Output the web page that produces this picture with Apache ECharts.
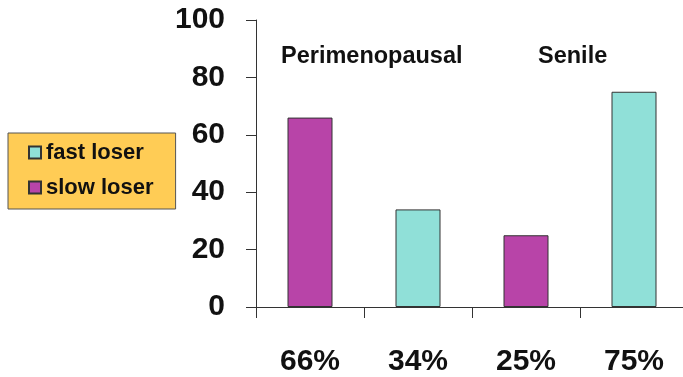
<!DOCTYPE html>
<html><head><meta charset="utf-8">
<script src="https://cdn.jsdelivr.net/npm/echarts@6/dist/echarts.min.js"></script>
<style>html,body{margin:0;padding:0;background:#fff}#c{width:683px;height:377px}</style>
</head><body><div id="c"></div>
<script>
var categories = ['66%', '34%', '25%', '75%'];
var slowLoser = [66, '-', 25, '-'];
var fastLoser = ['-', 34, '-', 75];
var yTicks = [0, 20, 40, 60, 80, 100];
var groupLabels = ['Perimenopausal', 'Senile'];

var chart = echarts.init(document.getElementById('c'));
var font = 'Liberation Sans, Arial, sans-serif';
chart.setOption({
  animation: false,
  grid: {left: 256, top: 20, width: 432, height: 287, outerBoundsMode: 'none'},
  legend: {
    orient: 'vertical', left: 8, top: 133,
    data: ['fast loser', 'slow loser'],
    backgroundColor: '#FFCC55', borderColor: '#555', borderWidth: 1,
    padding: [8, 22, 10, 20], itemGap: 12,
    itemWidth: 12, itemHeight: 12, icon: 'rect',
    textStyle: {fontFamily: font, fontWeight: 'bold', fontSize: 22, color: '#111', lineHeight: 23}
  },
  xAxis: {
    type: 'category', data: categories,
    axisLine: {lineStyle: {color: '#333', width: 1}},
    axisTick: {show: true, length: 11, lineStyle: {color: '#333'}},
    axisLabel: {margin: 40, fontFamily: font, fontWeight: 'bold', fontSize: 30, color: '#111'}
  },
  yAxis: {
    type: 'value', min: yTicks[0], max: yTicks[yTicks.length - 1], interval: 20,
    axisLine: {show: true, lineStyle: {color: '#333', width: 1}},
    axisTick: {show: true, length: 10, lineStyle: {color: '#333'}},
    splitLine: {show: false},
    axisLabel: {margin: 31, fontFamily: font, fontWeight: 'bold', fontSize: 30, color: '#111'}
  },
  graphic: [
    {type: 'text', left: 281, top: 45, style: {text: groupLabels[0], font: 'bold 23.5px ' + font, fill: '#111'}},
    {type: 'text', left: 538, top: 45, style: {text: groupLabels[1], font: 'bold 23.5px ' + font, fill: '#111'}}
  ],
  series: [
    {name: 'slow loser', type: 'bar', stack: 'a', barWidth: 45, data: slowLoser,
     itemStyle: {color: '#B844A8', borderColor: '#333', borderWidth: 1}},
    {name: 'fast loser', type: 'bar', stack: 'a', barWidth: 45, data: fastLoser,
     itemStyle: {color: '#90E0D8', borderColor: '#333', borderWidth: 1}}
  ]
});
</script></body></html>
